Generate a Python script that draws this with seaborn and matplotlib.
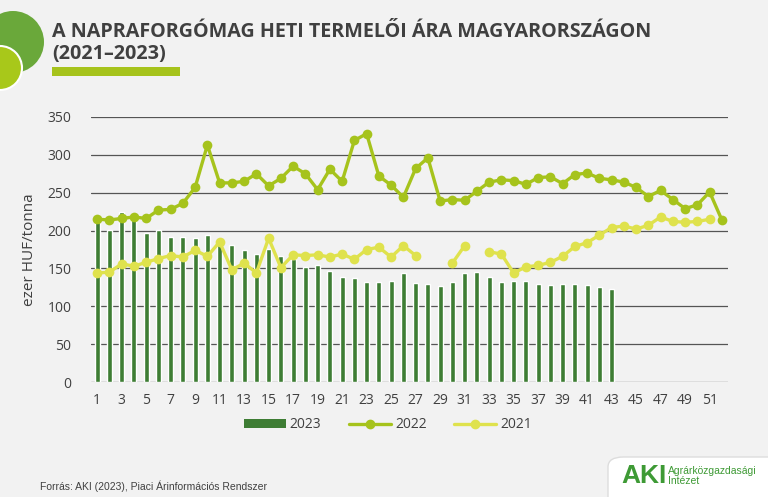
import numpy as np
import pandas as pd
import matplotlib
matplotlib.use("Agg")
import matplotlib.pyplot as plt
import seaborn as sns
from matplotlib.patches import Circle, FancyBboxPatch, Rectangle, Patch
from matplotlib.lines import Line2D

# ---- data ----
weeks_2023 = list(range(1, 44))
values_2023 = [211, 201, 224, 218, 197, 201, 192, 192, 190, 194,
               184, 181, 174, 169, 176, 167, 162, 152, 154, 147,
               139, 137, 132, 132, 133, 144, 131, 130, 127, 132,
               144, 145, 139, 132, 133, 134, 129, 128, 129, 129,
               128, 125, 123]

weeks_2022 = list(range(1, 53))
values_2022 = [215, 214, 216, 218, 216, 227, 228, 236, 257, 313,
               263, 263, 265, 275, 259, 269, 285, 275, 254, 281,
               265, 319, 328, 272, 260, 244, 282, 296, 239, 241,
               240, 252, 264, 267, 266, 261, 270, 271, 262, 274,
               276, 269, 267, 264, 257, 245, 253, 241, 229, 234,
               251, 214]

weeks_2021 = list(range(1, 52))
values_2021 = [144, 145, 156, 153, 158, 163, 167, 165, 174, 166,
               185, 148, 157, 144, 190, 151, 168, 167, 168, 165,
               169, 162, 175, 178, 165, 180, 167, None, None, 157,
               180, None, 172, 169, 144, 152, 154, 158, 166, 179,
               184, 194, 204, 206, 202, 207, 218, 212, 211, 212,
               215]

x_ticks = list(range(1, 52, 2))
y_ticks = [0, 50, 100, 150, 200, 250, 300, 350]

c2023 = "#3e7d34"
c2022 = "#a6c31c"
c2021 = "#dfe24d"
bg = "#f2f2f2"
txt = "#404040"

sns.set_theme(style="white")
plt.rcParams["font.family"] = ["Open Sans", "DejaVu Sans"]

fig = plt.figure(figsize=(7.68, 4.97), dpi=100, facecolor=bg)
ax = fig.add_axes([91/768, 1-382/497, (728-91)/768, (382-117)/497])
ax.set_facecolor(bg)

df23 = pd.DataFrame({"week": weeks_2023, "value": values_2023})
sns.barplot(data=df23, x="week", y="value", native_scale=True, color=c2023,
            width=0.42, saturation=1, ax=ax, zorder=2)

df22 = pd.DataFrame({"week": weeks_2022, "value": values_2022})
sns.lineplot(data=df22, x="week", y="value", color=c2022, linewidth=2.4,
             marker="o", markersize=7, markeredgewidth=0, ax=ax, zorder=4)

# 2021 in contiguous segments (gaps where no data)
segs = []
cur = []
for w, v in zip(weeks_2021, values_2021):
    if v is None:
        if cur:
            segs.append(cur)
        cur = []
    else:
        cur.append((w, v))
if cur:
    segs.append(cur)
for s in segs:
    d = pd.DataFrame(s, columns=["week", "value"])
    sns.lineplot(data=d, x="week", y="value", color=c2021, linewidth=2.4,
                 marker="o", markersize=7, markeredgewidth=0, ax=ax, zorder=3)

ax.set_xlim(0.5, 52.5)
ax.set_ylim(0, 350)
ax.set_yticks(y_ticks)
ax.set_xticks(x_ticks)
ax.set_xticklabels([str(t) for t in x_ticks])
ax.grid(axis="y", color="#555555", linewidth=0.9, zorder=0)
ax.set_axisbelow(True)
for sp in ax.spines.values():
    sp.set_visible(False)
ax.tick_params(axis="both", length=0, labelsize=10, colors=txt)
ax.tick_params(axis="y", pad=14)
ax.tick_params(axis="x", pad=8)
ax.set_xlabel("")
ax.set_ylabel("ezer HUF/tonna", fontsize=11, color=txt, labelpad=10)
ax.yaxis.set_label_coords(-0.085, 0.5)

# legend
handles = [Patch(facecolor=c2023, edgecolor="none"),
           Line2D([0], [0], color=c2022, lw=2.4, marker="o", markersize=6),
           Line2D([0], [0], color=c2021, lw=2.4, marker="o", markersize=6)]
fig.legend(handles, ["2023", "2022", "2021"], loc="center",
           bbox_to_anchor=(388/768, 1-425/497), ncol=3, frameon=False,
           fontsize=10, handlelength=3.0, handleheight=0.6, columnspacing=2.0,
           handletextpad=0.3, labelcolor=txt)

# title
fig.text(52/768, 1-32/497, "A NAPRAFORGÓMAG HETI TERMELŐI ÁRA MAGYARORSZÁGON",
         fontsize=14.2, fontweight="bold", color=txt, va="center", ha="left")
fig.text(52/768, 1-54/497, "(2021–2023)", fontsize=14.2, fontweight="bold",
         color=txt, va="center", ha="left")
fig.add_artist(Rectangle((52/768, 1-76/497), 128/768, 9/497,
                         transform=fig.transFigure, color="#a6c31c", lw=0))

# decorative circles (top-left)
fig.add_artist(Circle((13, 497-42), 31, transform=None, color="#6aa83a", lw=0, zorder=1))
fig.add_artist(Circle((0, 497-68), 22, transform=None, facecolor="#a8c81a",
                      edgecolor="white", lw=1.5, zorder=2))

# footer
fig.text(40/768, 1-486/497, "Forrás: AKI (2023), Piaci Árinformációs Rendszer",
         fontsize=7.5, color=txt, va="center", ha="left",
         family=["Liberation Sans", "DejaVu Sans"])

# logo box
fig.add_artist(FancyBboxPatch((608/768, 1-497/497 - 0.02), 175/768, 40/497 + 0.02,
                              boxstyle="round,pad=0,rounding_size=0.02",
                              transform=fig.transFigure, facecolor="white",
                              edgecolor="#dddddd", lw=1))
fig.text(621/768, 1-476/497, "AKI", fontsize=19, fontweight="bold",
         color="#3e9a35", va="center", ha="left", family=["Liberation Sans"])
fig.text(668/768, 1-476/497, "Agrárközgazdasági\nIntézet", fontsize=7.5,
         color="#3e9a35", va="center", ha="left", linespacing=1.1,
         family=["Liberation Sans", "DejaVu Sans"])

fig.savefig("out.png", dpi=100, facecolor=bg)
